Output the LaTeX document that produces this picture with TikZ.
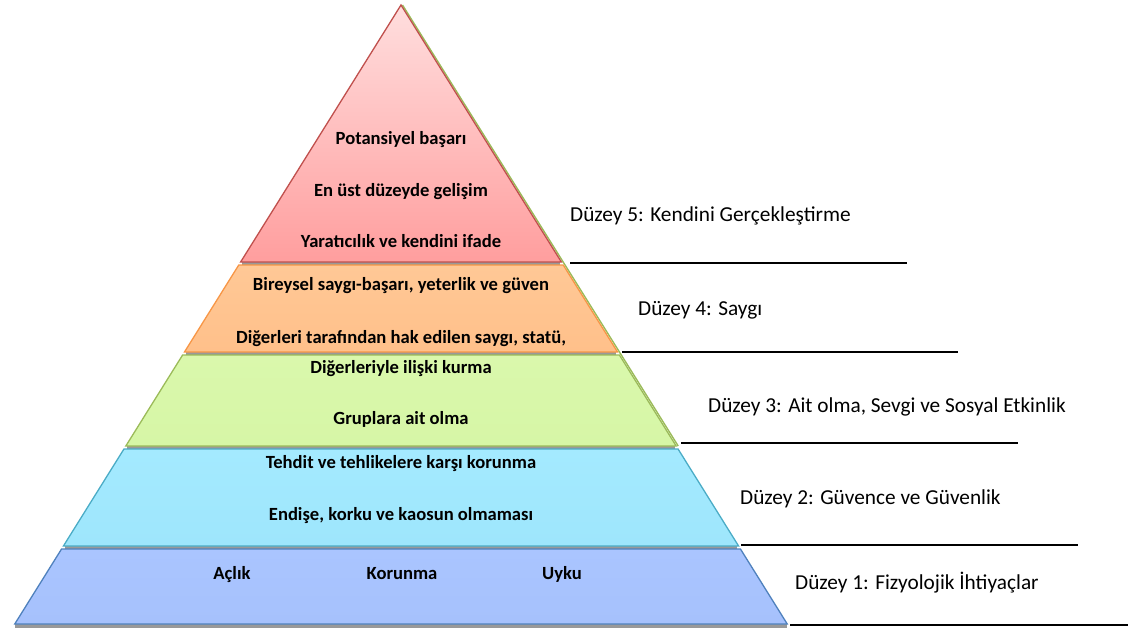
\documentclass[tikz,border=0pt]{standalone}
\usepackage{fontspec}
\setmainfont{Carlito}
\begin{document}
\begin{tikzpicture}[x=1pt,y=-1pt,
  layer/.style={line width=1.3pt, line join=miter},
  lvl/.style={anchor=west, font=\fontsize{21.3}{24}\selectfont, inner sep=0pt},
  inner/.style={font=\bfseries\fontsize{18.6}{22}\selectfont, inner sep=0pt, text height=0.72em, text depth=0.22em, yshift=-2.5pt},
  rule/.style={line width=1.3pt, black}]
\useasboundingbox (0,0) rectangle (1134,632);
\def\ax{401}\def\ay{5}\def\k{0.624}
\coordinate (apex) at (\ax,\ay);
% green outline behind (right edge visible)
\coordinate (gtop) at ({\ax+1.5},\ay);
\coordinate (gbot) at ({\ax+\k*(446-\ay)+2},446);
\draw[line width=1.4pt, draw={rgb,255:red,155;green,187;blue,89}] (gtop) -- (gbot);
% shadows
\foreach \t/\b in {262/265, 352/355, 446/449, 546/549, 624/628}{
  \fill[black!40] ({\ax-\k*(\b-\ay)+3},{\t}) -- ({\ax+\k*(\b-\ay)-3},{\t}) -- ({\ax+\k*(\b-\ay)-3},{\b}) -- ({\ax-\k*(\b-\ay)+3},{\b}) -- cycle;
}
% layer 1 (bottom, blue)
\path[layer, draw={rgb,255:red,79;green,129;blue,189}, top color={rgb,255:red,170;green,197;blue,255}, bottom color={rgb,255:red,166;green,193;blue,252}]
  ({\ax-\k*(549-\ay)},549) -- ({\ax+\k*(549-\ay)},549) -- ({\ax+\k*(624-\ay)},624) -- ({\ax-\k*(624-\ay)},624) -- cycle;
% layer 2 (cyan)
\path[layer, draw={rgb,255:red,75;green,172;blue,198}, top color={rgb,255:red,164;green,234;blue,255}, bottom color={rgb,255:red,158;green,230;blue,252}]
  ({\ax-\k*(449-\ay)},449) -- ({\ax+\k*(449-\ay)},449) -- ({\ax+\k*(546-\ay)},546) -- ({\ax-\k*(546-\ay)},546) -- cycle;
% layer 3 (green)
\path[layer, draw={rgb,255:red,155;green,187;blue,89}, top color={rgb,255:red,218;green,248;blue,172}, bottom color={rgb,255:red,214;green,246;blue,166}]
  ({\ax-\k*(355-\ay)},355) -- ({\ax+\k*(355-\ay)},355) -- ({\ax+\k*(446-\ay)},446) -- ({\ax-\k*(446-\ay)},446) -- cycle;
% layer 4 (orange)
\path[layer, draw={rgb,255:red,247;green,150;blue,70}, top color={rgb,255:red,255;green,200;blue,150}, bottom color={rgb,255:red,255;green,192;blue,138}]
  ({\ax-\k*(265-\ay)},265) -- ({\ax+\k*(265-\ay)},265) -- ({\ax+\k*(352-\ay)},352) -- ({\ax-\k*(352-\ay)},352) -- cycle;
% layer 5 (red)
\path[layer, draw={rgb,255:red,192;green,80;blue,77}, top color={rgb,255:red,255;green,222;blue,222}, bottom color={rgb,255:red,255;green,158;blue,158}]
  (apex) -- ({\ax+\k*(262-\ay)},262) -- ({\ax-\k*(262-\ay)},262) -- cycle;
% inner texts
\node[inner] (t51) at (401,139) {Potansiyel başarı};
\node[inner] (t52) at (401,191) {En üst düzeyde gelişim};
\node[inner] (t53) at (401,242) {Yaratıcılık ve kendini ifade};
\node[inner] (t41) at (401,285) {Bireysel saygı-başarı, yeterlik ve güven};
\node[inner] (t42) at (401,338) {Diğerleri tarafından hak edilen saygı, statü,};
\node[inner] (t31) at (401,368) {Diğerleriyle ilişki kurma};
\node[inner] (t32) at (401,419) {Gruplara ait olma};
\node[inner] (t21) at (401,463) {Tehdit ve tehlikelere karşı korunma};
\node[inner] (t22) at (401,515) {Endişe, korku ve kaosun olmaması};
\node[inner] (t11) at (232,574) {Açlık};
\node[inner] (t12) at (402,574) {Korunma};
\node[inner] (t13) at (562,574) {Uyku};
% level labels
\node[lvl] (l5) at (570,216) {Düzey 5: Kendini Gerçekleştirme};
\node[lvl] (l4) at (638,310) {Düzey 4: Saygı};
\node[lvl] (l3) at (708,407) {Düzey 3: Ait olma, Sevgi ve Sosyal Etkinlik};
\node[lvl] (l2) at (740,499) {Düzey 2: Güvence ve Güvenlik};
\node[lvl] (l1) at (795,583) {Düzey 1: Fizyolojik İhtiyaçlar};
% rules
\coordinate (r5a) at (570,263); \coordinate (r5b) at (907,263);
\coordinate (r4a) at (622,352); \coordinate (r4b) at (958,352);
\coordinate (r3a) at (681,443); \coordinate (r3b) at (1018,443);
\coordinate (r2a) at (741,545); \coordinate (r2b) at (1078,545);
\coordinate (r1a) at (790,625); \coordinate (r1b) at (1128,625);
\draw[rule] (r5a) -- (r5b);
\draw[rule] (r4a) -- (r4b);
\draw[rule] (r3a) -- (r3b);
\draw[rule] (r2a) -- (r2b);
\draw[rule] (r1a) -- (r1b);
\end{tikzpicture}
\end{document}
